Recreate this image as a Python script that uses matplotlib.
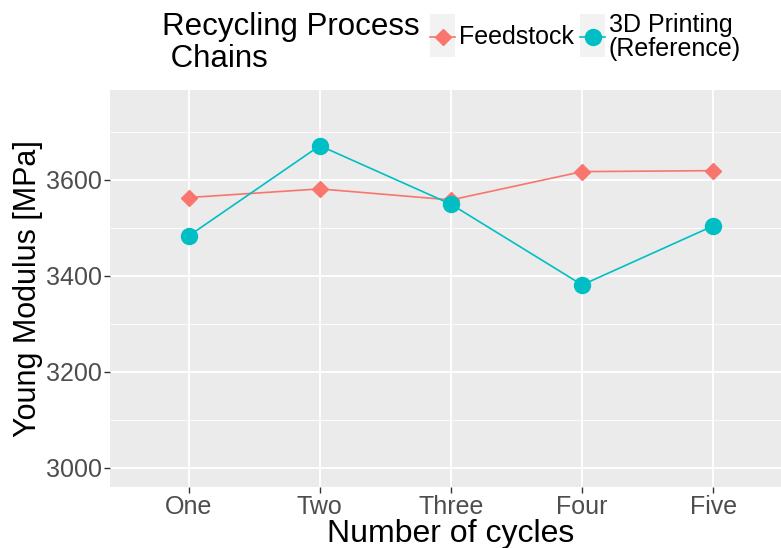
import matplotlib.pyplot as plt
from matplotlib.patches import Rectangle
from matplotlib.lines import Line2D

plt.rcParams['font.family'] = ['Liberation Sans', 'DejaVu Sans']

cycles = ['One', 'Two', 'Three', 'Four', 'Five']
feedstock = [3563, 3581, 3558, 3617, 3619]
printing_ref = [3483, 3671, 3549, 3381, 3504]
series_names = ['Feedstock', '3D Printing\n(Reference)']
colors = ['#F8766D', '#00BFC4']

fig = plt.figure(figsize=(7.81, 5.48), dpi=100)
ax = fig.add_axes([110 / 781, 61 / 548, 682 / 781, 397 / 548])
ax.set_facecolor('#EBEBEB')

x = list(range(1, len(cycles) + 1))
ax.plot(x, feedstock, color=colors[0], lw=1.2, marker='D', ms=8, zorder=3)
ax.plot(x, printing_ref, color=colors[1], lw=1.2, marker='o', ms=11.5, zorder=3)

ax.set_xlim(0.4, 5.6)
ax.set_ylim(2960, 3787)
ax.set_xticks(x)
ax.set_xticklabels(cycles)
ax.set_yticks([3000, 3200, 3400, 3600])
ax.set_yticks([3100, 3300, 3500, 3700], minor=True)
ax.grid(True, which='major', color='white', lw=1.3)
ax.grid(True, which='minor', axis='y', color='white', lw=0.6)
ax.set_axisbelow(True)
for s in ax.spines.values():
    s.set_visible(False)
ax.tick_params(axis='both', which='major', colors='#333333', labelcolor='#4D4D4D',
               labelsize=18, length=4, width=1, pad=2)
ax.tick_params(axis='y', which='minor', length=0)
ax.set_xlabel('Number of cycles', fontsize=23, labelpad=0)
ax.set_ylabel('Young Modulus [MPa]', fontsize=22, labelpad=2)

# legend across the top
fig.text(162 / 781, 1 - 43 / 548, 'Recycling Process\n Chains', fontsize=22.5,
         ha='left', va='center', linespacing=1.1)
keys = [(430, 'D', 8), (580, 'o', 11.5)]
for (kx, mk, ms), name, c in zip(keys, series_names, colors):
    fig.add_artist(Rectangle((kx / 781, 1 - 57 / 548), 25 / 781, 43 / 548,
                             transform=fig.transFigure, color='#F2F2F2', lw=0))
    fig.add_artist(Line2D([kx / 781, (kx + 25) / 781], [1 - 37 / 548] * 2,
                          transform=fig.transFigure, color=c, lw=1.2))
    fig.add_artist(Line2D([(kx + 12.5) / 781], [1 - 37 / 548], transform=fig.transFigure,
                          color=c, marker=mk, ms=ms, lw=0))
    fig.text((kx + 29) / 781, 1 - 37 / 548, name, fontsize=18, ha='left',
             va='center', linespacing=1.05)

fig.savefig('out.png', dpi=100)
